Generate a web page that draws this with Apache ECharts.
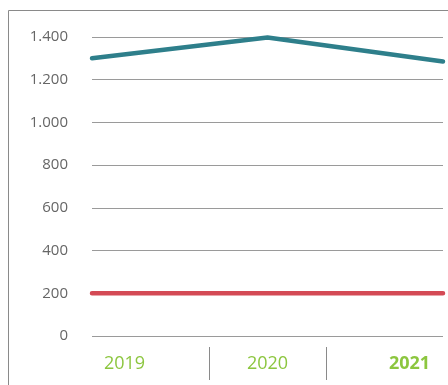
<!DOCTYPE html>
<html><head><meta charset="utf-8">
<script src="https://cdn.jsdelivr.net/npm/echarts@6/dist/echarts.min.js"></script>
<style>html,body{margin:0;padding:0;background:#fff}#c{width:448px;height:385px}</style>
</head><body><div id="c"></div>
<script>
var categories = ['2019', '2020', '2021'];
var tealValues = [1300, 1398, 1285];
var redValues = [200, 200, 200];
var yTicks = [0, 200, 400, 600, 800, 1000, 1200, 1400];

var chart = echarts.init(document.getElementById('c'));
var font = 'Open Sans';
chart.setOption({
  animation: false,
  graphic: [
    {type: 'polyline', shape: {points: [[8.5, 385], [8.5, 10.5], [448, 10.5]]}, style: {stroke: '#8a8a8a', lineWidth: 1, fill: null}, silent: true}
  ],
  grid: [
    {left: 92, right: 5, top: 37, bottom: 49}
  ],
  xAxis: [
    {type: 'category', data: categories, boundaryGap: false,
     axisLine: {show: false}, axisTick: {show: false}, axisLabel: {show: false}},
    {type: 'category', data: categories, boundaryGap: true, position: 'bottom', offset: 11,
     axisLine: {show: false}, axisTick: {show: false},
     axisLabel: {margin: 8, fontFamily: font, fontSize: 18, color: '#8cc63f',
       formatter: function (v, i) { return i === 0 ? '{a|' + v + '}' : (i === 2 ? '{c|' + v + '}' : '{b|' + v + '}'); },
       rich: {
         a: {fontFamily: font, fontSize: 18, color: '#8cc63f', padding: [0, 52, 0, 0]},
         b: {fontFamily: font, fontSize: 18, color: '#8cc63f'},
         c: {fontFamily: font, fontSize: 18, color: '#8cc63f', fontWeight: 'bold', padding: [0, 0, 0, 50]}
       }}},
    {type: 'value', min: 0, max: 3, interval: 1, position: 'bottom', offset: 11,
     axisLine: {show: false}, splitLine: {show: false}, axisLabel: {show: false},
     axisTick: {show: true, length: 33, customValues: [1, 2], lineStyle: {color: '#8a8a8a', width: 1}}}
  ],
  yAxis: [
    {type: 'value', min: 0, max: 1400, interval: 200,
     axisLine: {show: false}, axisTick: {show: false},
     axisLabel: {margin: 24, fontFamily: font, fontSize: 15, color: '#666',
       formatter: function (v) { return yTicks.indexOf(v) >= 0 ? String(v).replace(/\B(?=(\d{3})+(?!\d))/g, '.') : ''; }},
     splitLine: {lineStyle: {color: '#9a9a9a', width: 1}}}
  ],
  series: [
    {type: 'line', data: redValues, symbol: 'none',
     lineStyle: {color: '#d44a55', width: 4.5, cap: 'round'}},
    {type: 'line', data: tealValues, symbol: 'none',
     lineStyle: {color: '#2e7f8b', width: 4.5, cap: 'round', join: 'round'}}
  ]
});
</script></body></html>
